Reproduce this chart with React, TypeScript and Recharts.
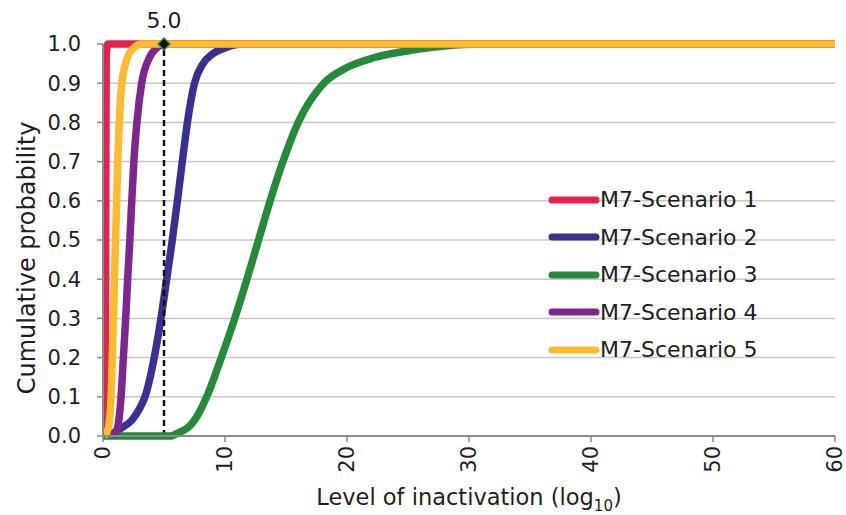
import {
  ComposedChart,
  Line,
  XAxis,
  YAxis,
  CartesianGrid,
  ReferenceLine,
  ReferenceDot,
} from "recharts";

const FONT = "'DejaVu Sans', Verdana, sans-serif";
const TEXT = "#1e1e1e";
const AXIS = "#8a8a8a";

const xTicks = [0, 10, 20, 30, 40, 50, 60];
const yTicks = [0, 0.1, 0.2, 0.3, 0.4, 0.5, 0.6, 0.7, 0.8, 0.9, 1.0];

// cumulative probability vs level of inactivation (log10)
const scenario1 = [
  { x: 0.05, y: 0 },
  { x: 0.18, y: 0.03 },
  { x: 0.22, y: 0.5 },
  { x: 0.26, y: 0.97 },
  { x: 0.4, y: 1 },
  { x: 60, y: 1 },
];

const scenario2 = [
  { x: 0.4, y: 0 },
  { x: 1.0, y: 0.01 },
  { x: 1.5, y: 0.02 },
  { x: 2.35, y: 0.04 },
  { x: 3.0, y: 0.07 },
  { x: 3.44, y: 0.1 },
  { x: 4.2, y: 0.2 },
  { x: 4.75, y: 0.3 },
  { x: 5.22, y: 0.4 },
  { x: 5.68, y: 0.5 },
  { x: 6.1, y: 0.6 },
  { x: 6.5, y: 0.7 },
  { x: 6.92, y: 0.8 },
  { x: 7.5, y: 0.9 },
  { x: 8.2, y: 0.95 },
  { x: 9.0, y: 0.975 },
  { x: 10.0, y: 0.99 },
  { x: 11.3, y: 1 },
  { x: 60, y: 1 },
];

const scenario3 = [
  { x: 0, y: 0 },
  { x: 5.5, y: 0 },
  { x: 6.3, y: 0.01 },
  { x: 6.9, y: 0.02 },
  { x: 7.7, y: 0.05 },
  { x: 8.5, y: 0.1 },
  { x: 9.7, y: 0.2 },
  { x: 10.8, y: 0.3 },
  { x: 11.8, y: 0.4 },
  { x: 12.75, y: 0.5 },
  { x: 13.7, y: 0.6 },
  { x: 14.75, y: 0.7 },
  { x: 16.0, y: 0.8 },
  { x: 18.1, y: 0.9 },
  { x: 20.0, y: 0.94 },
  { x: 22.2, y: 0.965 },
  { x: 25.5, y: 0.985 },
  { x: 28, y: 0.995 },
  { x: 31, y: 1 },
  { x: 60, y: 1 },
];

const scenario4 = [
  { x: 0.8, y: 0 },
  { x: 1.04, y: 0.01 },
  { x: 1.25, y: 0.03 },
  { x: 1.48, y: 0.1 },
  { x: 1.67, y: 0.2 },
  { x: 1.86, y: 0.3 },
  { x: 2.02, y: 0.4 },
  { x: 2.2, y: 0.5 },
  { x: 2.36, y: 0.6 },
  { x: 2.53, y: 0.7 },
  { x: 2.78, y: 0.8 },
  { x: 3.17, y: 0.9 },
  { x: 3.8, y: 0.965 },
  { x: 4.4, y: 0.99 },
  { x: 5, y: 1 },
  { x: 60, y: 1 },
];

const scenario5 = [
  { x: 0.1, y: 0 },
  { x: 0.43, y: 0.02 },
  { x: 0.66, y: 0.1 },
  { x: 0.76, y: 0.2 },
  { x: 0.85, y: 0.3 },
  { x: 0.94, y: 0.4 },
  { x: 1.03, y: 0.5 },
  { x: 1.12, y: 0.6 },
  { x: 1.21, y: 0.7 },
  { x: 1.33, y: 0.8 },
  { x: 1.55, y: 0.9 },
  { x: 1.94, y: 0.96 },
  { x: 2.5, y: 0.99 },
  { x: 3.2, y: 1 },
  { x: 60, y: 1 },
];

const markerX = 5;
const markerY = 1;
const markerLabel = "5.0";

const series = [
  { name: "M7-Scenario 1", color: "#E5214F", data: scenario1 },
  { name: "M7-Scenario 2", color: "#3A3092", data: scenario2 },
  { name: "M7-Scenario 3", color: "#248B3B", data: scenario3 },
  { name: "M7-Scenario 4", color: "#7E2690", data: scenario4 },
  { name: "M7-Scenario 5", color: "#FDBB2D", data: scenario5 },
];

function XTick(props: any) {
  const { x, y, payload } = props;
  return (
    <text
      x={x}
      y={y}
      transform={`rotate(-90 ${x} ${y})`}
      textAnchor="end"
      dominantBaseline="central"
      fontSize={21}
      fontFamily={FONT}
      fill={TEXT}
    >
      {payload.value}
    </text>
  );
}

function XTitle(props: any) {
  const { viewBox } = props;
  const cx = viewBox.x + viewBox.width / 2;
  return (
    <text
      x={cx}
      y={viewBox.y + 69}
      textAnchor="middle"
      fontSize={22.5}
      fontFamily={FONT}
      fill={TEXT}
    >
      Level of inactivation (log
      <tspan fontSize={15} dy={6}>
        10
      </tspan>
      <tspan dy={-6}>)</tspan>
    </text>
  );
}

function YTitle() {
  return (
    <text
      x={27}
      y={258}
      transform="rotate(-90 27 258)"
      textAnchor="middle"
      dominantBaseline="central"
      fontSize={24}
      fontFamily={FONT}
      fill={TEXT}
    >
      Cumulative probability
    </text>
  );
}

function Diamond(props: any) {
  const { cx, cy } = props;
  const r = 6;
  return (
    <polygon
      points={`${cx},${cy - r} ${cx + r},${cy} ${cx},${cy + r} ${cx - r},${cy}`}
      fill="#111"
      stroke="#3d8a3d"
      strokeWidth={1.5}
    />
  );
}

function LegendBox() {
  return (
    <div
      style={{
        position: "absolute",
        left: 547,
        top: 181,
        fontFamily: FONT,
        fontSize: 22,
        color: TEXT,
      }}
    >
      {series.map((s) => (
        <div
          key={s.name}
          style={{ display: "flex", alignItems: "center", height: 37.5 }}
        >
          <svg width={53} height={10} style={{ display: "block" }}>
            <line
              x1={5}
              y1={5}
              x2={49}
              y2={5}
              stroke={s.color}
              strokeWidth={7}
              strokeLinecap="round"
            />
          </svg>
          <span style={{ whiteSpace: "nowrap" }}>{s.name}</span>
        </div>
      ))}
    </div>
  );
}

export default function App() {
  return (
    <div
      style={{
        position: "absolute",
        left: 0,
        top: 0,
        width: 846,
        height: 515,
        background: "#fff",
      }}
    >
      <ComposedChart
        width={846}
        height={515}
        margin={{ top: 44, right: 11, bottom: 0, left: 0 }}
      >
        <CartesianGrid vertical={false} stroke="#c8c8c8" strokeWidth={1.5} />
        <XAxis
          type="number"
          dataKey="x"
          domain={[0, 60]}
          ticks={xTicks}
          interval={0}
          height={79}
          tick={<XTick />}
          tickSize={6}
          tickMargin={4}
          axisLine={{ stroke: AXIS, strokeWidth: 2 }}
          tickLine={{ stroke: AXIS, strokeWidth: 1.5 }}
          label={<XTitle />}
          allowDataOverflow
        />
        <YAxis
          type="number"
          domain={[0, 1]}
          ticks={yTicks}
          interval={0}
          width={103}
          tickFormatter={(v: number) => v.toFixed(1)}
          tick={{ fontSize: 21, fontFamily: FONT, fill: TEXT }}
          tickSize={6}
          tickMargin={16}
          axisLine={{ stroke: AXIS, strokeWidth: 2 }}
          tickLine={{ stroke: AXIS, strokeWidth: 1.5 }}
          label={<YTitle />}
        />
        {series.slice(0, 2).map((s) => (
          <Line
            key={s.name}
            data={s.data}
            dataKey="y"
            name={s.name}
            type="monotone"
            stroke={s.color}
            strokeWidth={7.5}
            dot={false}
            activeDot={false}
            isAnimationActive={false}
          />
        ))}
        <ReferenceLine
          segment={[
            { x: markerX, y: 0 },
            { x: markerX, y: markerY },
          ]}
          stroke="#111"
          strokeWidth={2.5}
          strokeDasharray="6 4"
        />
        {series.slice(2).map((s) => (
          <Line
            key={s.name}
            data={s.data}
            dataKey="y"
            name={s.name}
            type="monotone"
            stroke={s.color}
            strokeWidth={7.5}
            dot={false}
            activeDot={false}
            isAnimationActive={false}
          />
        ))}
        <ReferenceDot
          x={markerX}
          y={markerY}
          r={6}
          shape={(p: any) => <Diamond {...p} />}
          label={{
            value: markerLabel,
            position: "top",
            offset: 10,
            fontSize: 22,
            fontFamily: FONT,
            fill: TEXT,
          }}
        />
      </ComposedChart>
      <LegendBox />
    </div>
  );
}
